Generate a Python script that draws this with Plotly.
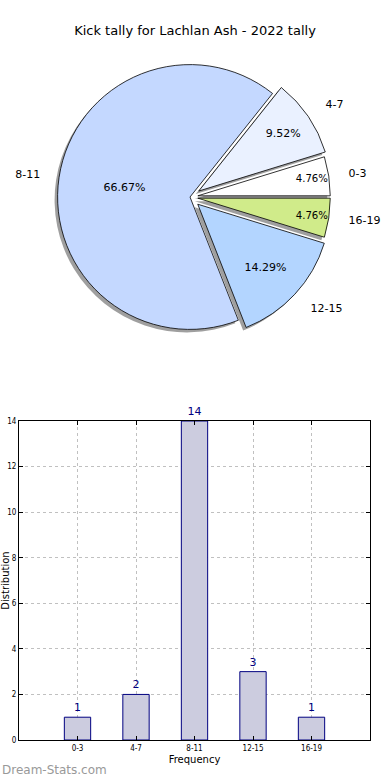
import plotly.graph_objects as go

title = "Kick tally for Lachlan Ash - 2022 tally"
categories = ["0-3", "4-7", "8-11", "12-15", "16-19"]
counts = [1, 2, 14, 3, 1]
pie_colors = ["#ffffff", "#eaf1ff", "#c4d8ff", "#b3d5ff", "#d0eb8a"]
pulls = [0.06, 0.08, 0.0, 0.08, 0.06]
y_ticks = [0, 2, 4, 6, 8, 10, 12, 14]

W, H = 390, 780
def px_x(a, b):
    return [a / W, b / W]
def px_y(top, bottom):
    return [1 - bottom / H, 1 - top / H]

# matplotlib starts the first wedge at 3 o'clock going counterclockwise;
# plotly's counterclockwise pies end the first slice at `rotation`
rot = 90 - 360 * counts[0] / sum(counts)

TICKFONT = dict(family="DejaVu Sans Condensed, Liberation Sans Narrow, DejaVu Sans", size=8, color="#000000")

fig = go.Figure()

# shadow
fig.add_trace(go.Pie(
    labels=categories, values=counts, sort=False, direction="counterclockwise",
    rotation=rot, pull=pulls,
    marker=dict(colors=["rgba(80,80,80,0.55)"] * 5, line=dict(width=0)),
    textinfo="none", hoverinfo="skip", showlegend=False,
    domain=dict(x=px_x(44, 330), y=px_y(57, 343)),
))
# main pie with percentages inside
fig.add_trace(go.Pie(
    labels=categories, values=counts, sort=False, direction="counterclockwise",
    rotation=rot, pull=pulls,
    marker=dict(colors=pie_colors, line=dict(color="#000000", width=0.8)),
    texttemplate="%{percent:.2%}", textposition="inside", insidetextorientation="horizontal",
    textfont=dict(family="DejaVu Sans", size=11, color="#000000"),
    showlegend=False,
    domain=dict(x=px_x(47, 333), y=px_y(54, 340)),
))
# outside labels (on a larger invisible pie so they sit further out)
fig.add_trace(go.Pie(
    labels=categories, values=counts, sort=False, direction="counterclockwise",
    rotation=rot, pull=pulls,
    marker=dict(colors=["rgba(0,0,0,0)"] * 5, line=dict(width=0)),
    texttemplate="%{label}", textposition="outside",
    textfont=dict(family="DejaVu Sans", size=11, color="#000000"),
    hoverinfo="skip", showlegend=False,
    domain=dict(x=px_x(30, 350), y=px_y(37, 357)),
))

fig.add_trace(go.Bar(
    x=list(range(len(categories))), y=counts, width=0.45,
    marker=dict(color="#ccccdf", line=dict(color="#000080", width=1)),
    text=counts, textposition="outside", cliponaxis=False,
    textfont=dict(family="DejaVu Sans", size=11, color="#000080"),
    showlegend=False, xaxis="x", yaxis="y",
))

fig.update_layout(
    width=W, height=H,
    paper_bgcolor="white", plot_bgcolor="white",
    margin=dict(l=0, r=0, t=0, b=0, autoexpand=False),
    font=dict(family="DejaVu Sans", color="#000000"),
    title=dict(text=title, x=0.5, xanchor="center", y=1 - 30 / H, yanchor="middle",
               font=dict(family="DejaVu Sans", size=13, color="#000000")),
    xaxis=dict(
        domain=px_x(19, 370), range=[-1, 5], automargin=False,
        tickmode="array", tickvals=list(range(len(categories))), ticktext=categories,
        tickfont=TICKFONT, showgrid=True, gridcolor="#c0c0c0", griddash="dot", gridwidth=1,
        showline=True, linecolor="#000000", linewidth=1, mirror="ticks",
        ticks="inside", ticklen=4, tickcolor="#000000", zeroline=False,
        title=dict(text="Frequency", font=dict(family="DejaVu Sans", size=10), standoff=4),
        anchor="y",
    ),
    yaxis=dict(
        domain=px_y(421, 740), range=[0, 14], automargin=False,
        tickmode="array", tickvals=y_ticks,
        tickfont=TICKFONT, showgrid=True, gridcolor="#c0c0c0", griddash="dot", gridwidth=1,
        showline=True, linecolor="#000000", linewidth=1, mirror="ticks",
        ticks="inside", ticklen=4, tickcolor="#000000", zeroline=False,
        title=dict(text="Distribution", font=dict(family="DejaVu Sans", size=10), standoff=2),
        anchor="x",
    ),
    annotations=[dict(
        text="Dream-Stats.com", xref="paper", yref="paper",
        x=0, y=1 - 770 / H, xanchor="left", yanchor="middle", showarrow=False,
        font=dict(family="DejaVu Sans", size=12, color="#999999"),
    )],
)

fig.write_html("out.html", config={"displayModeBar": False},
               post_script="document.body.style.margin='0px';document.body.style.overflow='hidden';")
